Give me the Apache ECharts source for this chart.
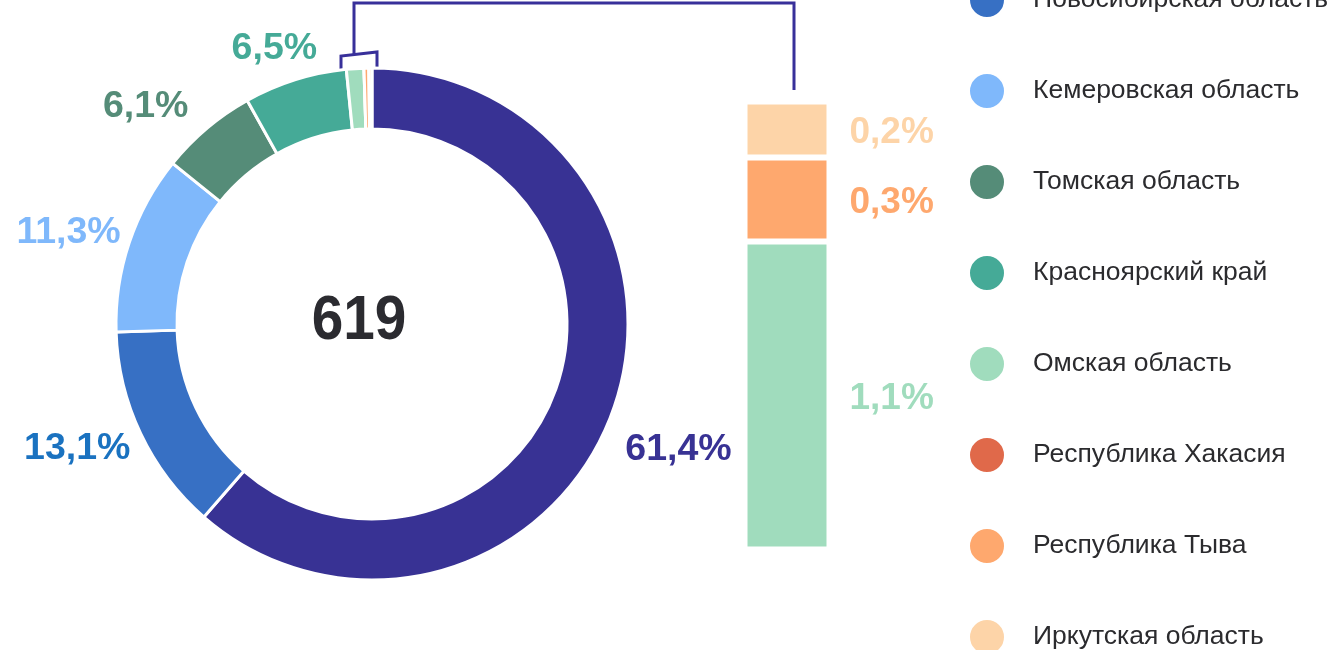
<!DOCTYPE html>
<html>
<head>
<meta charset="utf-8">
<script src="https://cdn.jsdelivr.net/npm/echarts@6/dist/echarts.min.js"></script>
<style>
html,body{margin:0;padding:0;background:#fff;}
#chart{width:1329px;height:650px;}
</style>
</head>
<body>
<div id="chart"></div>
<script>
// ---- data ----
const categories = ['Алтайский край', 'Новосибирская область', 'Кемеровская область', 'Томская область',
  'Красноярский край', 'Омская область', 'Республика Хакасия', 'Республика Тыва', 'Иркутская область'];
const shares = [61.4, 13.1, 11.3, 6.1, 6.5, 1.1, 0, 0.3, 0.2];
const total = 619;
const legendNames = categories.slice(1);
const barNames = ['Омская область', 'Республика Хакасия', 'Республика Тыва', 'Иркутская область'];

// ---- styles ----
const sliceColors = ['#383294', '#3770c4', '#7fb8fb', '#558c78', '#45aa97', '#a0dcbd', '#e0694a', '#fea86e', '#fdd4a8'];
const labelColors = ['#383294', '#1a72c0', '#7fb8fb', '#558c78', '#45aa97', '#a0dcbd', '#e0694a', '#fea86e', '#fdd4a8'];
// small label nudges (px) relative to the outside-end placement
const labelNudge = [[7, 14], [-4, -7], [-2, 11], [-14, 3], [24, -5], [0, 0], [0, 0], [0, 0], [0, 0]];
const FONT = 'Liberation Sans, Arial, sans-serif';
const CX = 372, CY = 324, R_IN = 195, R_OUT = 256, LABEL_R = 263;
const LINE = '#38309a';

const fmt = v => v.toFixed(1).replace('.', ',') + '%';
const sumShares = shares.reduce((a, b) => a + b, 0);

const pieData = categories.map((n, i) => ({
  name: n,
  value: shares[i],
  itemStyle: { color: sliceColors[i] },
  label: { show: barNames.indexOf(n) < 0, color: labelColors[i] }
}));

const barValues = barNames.map(n => shares[categories.indexOf(n)]);
const barTotal = barValues.reduce((a, b) => a + b, 0);
const barSeries = barNames.map((n, k) => {
  const i = categories.indexOf(n);
  return {
    type: 'bar', name: n, stack: 'rest', xAxisIndex: 0, yAxisIndex: 0,
    data: [barValues[k]], barWidth: 85,
    itemStyle: { color: sliceColors[i], borderColor: '#fff', borderWidth: 3 },
    label: {
      show: barValues[k] > 0, position: 'right', distance: 20, offset: [0, 3],
      formatter: p => fmt(p.value), color: labelColors[i],
      fontSize: 37, fontWeight: 'bold', fontFamily: FONT
    },
    emphasis: { disabled: true }
  };
});

const chart = echarts.init(document.getElementById('chart'), null, { renderer: 'canvas' });
chart.setOption({
  animation: false,
  backgroundColor: '#fff',
  legend: {
    data: legendNames, orient: 'vertical', left: 968, top: -19, height: 720, padding: 0,
    icon: 'circle', itemWidth: 36, itemHeight: 36, itemGap: 53,
    selectedMode: false,
    textStyle: { fontSize: 26.5, lineHeight: 30, color: '#2b2b2e', fontFamily: FONT, padding: [0, 0, 0, 23] }
  },
  grid: { left: 744.5, width: 85, top: 101.5, bottom: 100.5 },
  xAxis: { type: 'category', data: ['rest'], show: false },
  yAxis: { type: 'value', min: 0, max: barTotal, show: false },
  series: [{
    type: 'pie', name: 'regions', center: [CX, CY], radius: [R_IN, R_OUT],
    startAngle: 90, clockwise: true, avoidLabelOverlap: false,
    itemStyle: { borderColor: '#fff', borderWidth: 3 },
    label: {
      position: 'outside', formatter: p => fmt(p.value),
      fontSize: 37.5, fontWeight: 'bold', fontFamily: FONT
    },
    labelLine: { show: false },
    labelLayout: function (params) {
      const idx = params.dataIndex;
      let cum = 0;
      for (let j = 0; j < idx; j++) cum += shares[j];
      const mid = (cum + shares[idx] / 2) / sumShares * 2 * Math.PI;
      const sx = Math.sin(mid), sy = -Math.cos(mid);
      return {
        x: CX + LABEL_R * sx + labelNudge[idx][0], y: CY + LABEL_R * sy + labelNudge[idx][1],
        align: sx >= 0 ? 'left' : 'right',
        verticalAlign: sy >= 0 ? 'top' : 'bottom'
      };
    },
    emphasis: { disabled: true },
    data: pieData
  }].concat(barSeries),
  graphic: [
    {
      type: 'text', x: 359, y: 322, scaleX: 0.9,
      style: { text: String(total), fill: '#2b2b30', font: 'bold 63px ' + FONT,
        align: 'center', verticalAlign: 'middle', textAlign: 'center', textVerticalAlign: 'middle' }
    },
    {
      type: 'polyline',
      shape: { points: [[341, 70], [341, 56], [377, 52], [377, 70]] },
      style: { stroke: LINE, lineWidth: 3, fill: null }
    },
    {
      type: 'polyline',
      shape: { points: [[354, 54], [354, 3], [794, 3], [794, 90]] },
      style: { stroke: LINE, lineWidth: 3, fill: null }
    }
  ]
});
</script>
</body>
</html>
